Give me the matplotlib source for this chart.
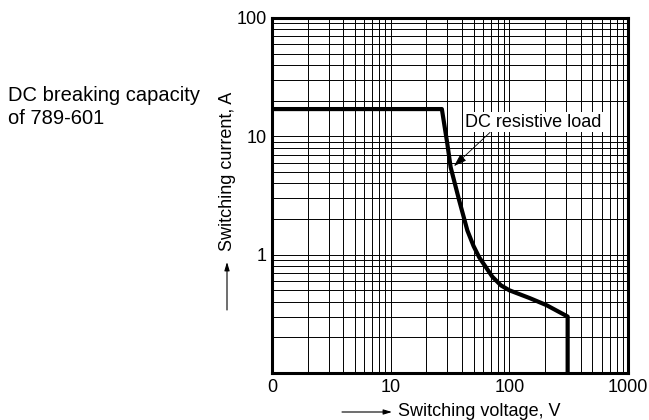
import matplotlib
matplotlib.use("Agg")
import matplotlib.pyplot as plt

plt.rcParams['font.family'] = ['Liberation Sans', 'DejaVu Sans']

# DC resistive load curve
voltage = [1, 27, 30, 32, 37.7, 44.3, 50, 55.7, 72, 85, 100, 148, 205, 310, 310]
current = [17, 17, 8.7, 5.5, 2.9, 1.6, 1.18, 0.95, 0.65, 0.55, 0.5, 0.43, 0.375, 0.3, 0.1]

x_ticks = [1, 10, 100, 1000]
x_labels = ["0", "10", "100", "1000"]
y_ticks = [1, 10, 100]
y_labels = ["1", "10", "100"]

fig = plt.figure(figsize=(6.49, 4.20), dpi=100)
ax = fig.add_axes([272 / 649, 47 / 420, 356 / 649, 355 / 420])

ax.set_xscale('log')
ax.set_yscale('log')
ax.set_xlim(1, 1000)
ax.set_ylim(0.1, 100)

ax.grid(True, which='both', color='black', linewidth=0.7)
ax.set_axisbelow(True)

ax.plot(voltage, current, color='black', linewidth=3, solid_joinstyle='round')

ax.set_xticks(x_ticks)
ax.set_xticklabels(x_labels)
ax.set_yticks(y_ticks)
ax.set_yticklabels(y_labels)
ax.minorticks_on()
ax.tick_params(which='both', length=0, labelsize=13, pad=4)
ax.tick_params(axis='x', which='minor', labelbottom=False)
ax.tick_params(axis='y', which='minor', labelleft=False)

for s in ax.spines.values():
    s.set_linewidth(2.2)

ax.annotate("DC resistive load", xy=(33.5, 5.5), xytext=(158, 13.2),
            ha='center', va='center', fontsize=13,
            bbox=dict(boxstyle='square,pad=0.1', fc='white', ec='none'),
            arrowprops=dict(arrowstyle='-|>,head_length=0.6,head_width=0.2',
                            color='black', lw=0.6, relpos=(0.2, 0.0),
                            shrinkA=0, shrinkB=1))

# labels with their little arrows
fig.text(8 / 649, 1 - 107 / 420, "DC breaking capacity\nof 789-601",
         ha='left', va='center', fontsize=14.5, linespacing=1.3)
fig.text(227 / 649, 1 - 171 / 420, "Switching current, A", rotation=90,
         ha='center', va='center', fontsize=13)
ax.annotate("", xy=(227, 420 - 262), xytext=(227, 420 - 310),
            xycoords='figure pixels', textcoords='figure pixels',
            arrowprops=dict(arrowstyle='-|>,head_length=0.5,head_width=0.15',
                            color='black', lw=0.8, shrinkA=0, shrinkB=0))
fig.text(398 / 649, 1 - 411 / 420, "Switching voltage, V",
         ha='left', va='center', fontsize=13)
ax.annotate("", xy=(392, 420 - 412), xytext=(342, 420 - 412),
            xycoords='figure pixels', textcoords='figure pixels',
            arrowprops=dict(arrowstyle='-|>,head_length=0.5,head_width=0.15',
                            color='black', lw=0.8, shrinkA=0, shrinkB=0))

fig.savefig("out.png", dpi=100)
